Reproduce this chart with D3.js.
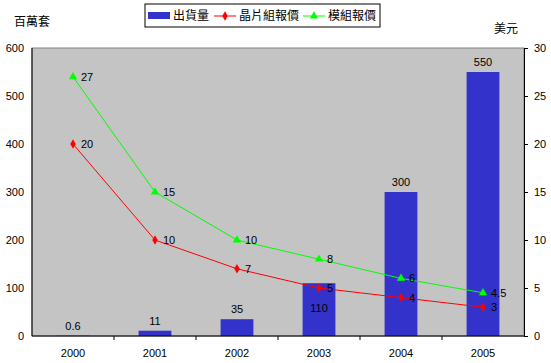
<!DOCTYPE html>
<html lang="zh-Hant">
<head>
<meta charset="UTF-8">
<title>出貨量與報價</title>
<script src="https://d3js.org/d3.v7.min.js"></script>
<style>
  body { margin: 0; background: #fff; }
  svg text { font-family: "Liberation Sans", Arial, "Noto Sans CJK TC", sans-serif; font-size: 11px; fill: #000; }
  .cjk { font-family: "Noto Sans CJK TC", sans-serif; font-size: 12px; }
</style>
</head>
<body>
<div id="chart"></div>
<script>
const years = ["2000", "2001", "2002", "2003", "2004", "2005"];
const shipments = [0.6, 11, 35, 110, 300, 550];
const chipPrice = [20, 10, 7, 5, 4, 3];
const modulePrice = [27, 15, 10, 8, 6, 4.5];
const leftTicks = [0, 100, 200, 300, 400, 500, 600];
const rightTicks = [0, 5, 10, 15, 20, 25, 30];

const W = 551, H = 363;
const plot = { left: 32, right: 524, top: 48, bottom: 336 };

const svg = d3.select("#chart").append("svg")
  .attr("width", W).attr("height", H);

const xOuter = d3.scaleBand().domain(years).range([plot.left, plot.right]);
const barW = xOuter.bandwidth() * 0.4;
const yL = d3.scaleLinear().domain([0, 600]).range([plot.bottom, plot.top]);
const yR = d3.scaleLinear().domain([0, 30]).range([plot.bottom, plot.top]);
const cx = i => xOuter(years[i]) + xOuter.bandwidth() / 2;

// plot background
svg.append("rect")
  .attr("x", plot.left).attr("y", plot.top)
  .attr("width", plot.right - plot.left).attr("height", plot.bottom - plot.top)
  .attr("fill", "#c4c4c4").attr("stroke", "#808080");

// bars
svg.append("g").selectAll("rect").data(shipments).join("rect")
  .attr("x", (d, i) => cx(i) - barW / 2)
  .attr("y", d => yL(d))
  .attr("width", barW)
  .attr("height", d => plot.bottom - yL(d))
  .attr("fill", "#3333cc");

// axes
const axL = svg.append("g").attr("transform", `translate(${plot.left},0)`)
  .call(d3.axisLeft(yL).tickValues(leftTicks).tickSize(0).tickPadding(8));
const axR = svg.append("g").attr("transform", `translate(${plot.right},0)`)
  .call(d3.axisRight(yR).tickValues(rightTicks).tickSize(4).tickPadding(6));
const axB = svg.append("g").attr("transform", `translate(0,${plot.bottom})`)
  .call(d3.axisBottom(xOuter).tickSize(0).tickPadding(13));
[axL, axR, axB].forEach(a => {
  a.select(".domain").attr("stroke", "#000");
  a.selectAll("line").attr("stroke", "#000");
  a.selectAll("text").style("font-size", "11px");
});
axL.select(".domain").remove();
axB.select(".domain").remove();
svg.append("line").attr("x1", plot.left).attr("x2", plot.left)
  .attr("y1", plot.top).attr("y2", plot.bottom).attr("stroke", "#000");
svg.append("line").attr("x1", plot.left).attr("x2", plot.right)
  .attr("y1", plot.bottom).attr("y2", plot.bottom).attr("stroke", "#000");
// category separator ticks
svg.append("g").selectAll("line").data(years.slice(1)).join("line")
  .attr("x1", d => xOuter(d)).attr("x2", d => xOuter(d))
  .attr("y1", plot.bottom).attr("y2", plot.bottom + 4)
  .attr("stroke", "#000");

// bar labels
svg.append("g").selectAll("text").data(shipments).join("text")
  .attr("x", (d, i) => cx(i))
  .attr("y", (d, i) => i === 3 ? yL(d) + 29 : yL(d) - 6)
  .attr("text-anchor", "middle")
  .text(d => d);

// lines
const line = d3.line().x((d, i) => cx(i)).y(d => yR(d));

svg.append("path").datum(modulePrice)
  .attr("d", line).attr("fill", "none").attr("stroke", "#00ff00").attr("stroke-width", 1);
svg.append("path").datum(chipPrice)
  .attr("d", line).attr("fill", "none").attr("stroke", "#ff0000").attr("stroke-width", 1);

svg.append("g").selectAll("path").data(modulePrice).join("path")
  .attr("transform", (d, i) => `translate(${cx(i)},${yR(d)})`)
  .attr("d", d3.symbol(d3.symbolTriangle, 30))
  .attr("fill", "#00ff00");
svg.append("g").selectAll("path").data(chipPrice).join("path")
  .attr("transform", (d, i) => `translate(${cx(i)},${yR(d)})`)
  .attr("d", d3.symbol(d3.symbolDiamond, 26))
  .attr("fill", "#ff0000");

svg.append("g").selectAll("text").data(modulePrice).join("text")
  .attr("x", (d, i) => cx(i) + 8).attr("y", d => yR(d) + 4).text(d => d);
svg.append("g").selectAll("text").data(chipPrice).join("text")
  .attr("x", (d, i) => cx(i) + 8).attr("y", d => yR(d) + 4).text(d => d);

// axis titles
svg.append("text").attr("class", "cjk").attr("x", 14).attr("y", 26).text("百萬套");
svg.append("text").attr("class", "cjk").attr("x", 494).attr("y", 33).text("美元");

// legend
const lg = svg.append("g").attr("transform", "translate(145,4)");
lg.append("rect").attr("width", 235).attr("height", 23)
  .attr("fill", "#fff").attr("stroke", "#000");
lg.append("rect").attr("x", 3).attr("y", 8).attr("width", 22).attr("height", 7).attr("fill", "#3333cc");
lg.append("text").attr("class", "cjk").attr("x", 28).attr("y", 16).text("出貨量");
lg.append("line").attr("x1", 69).attr("x2", 91).attr("y1", 12).attr("y2", 12).attr("stroke", "#ff0000");
lg.append("path").attr("transform", "translate(80,12)").attr("d", d3.symbol(d3.symbolDiamond, 26)).attr("fill", "#ff0000");
lg.append("text").attr("class", "cjk").attr("x", 94).attr("y", 16).text("晶片組報價");
lg.append("line").attr("x1", 158).attr("x2", 180).attr("y1", 12).attr("y2", 12).attr("stroke", "#00ff00");
lg.append("path").attr("transform", "translate(169,12)").attr("d", d3.symbol(d3.symbolTriangle, 30)).attr("fill", "#00ff00");
lg.append("text").attr("class", "cjk").attr("x", 183).attr("y", 16).text("模組報價");
</script>
</body>
</html>
